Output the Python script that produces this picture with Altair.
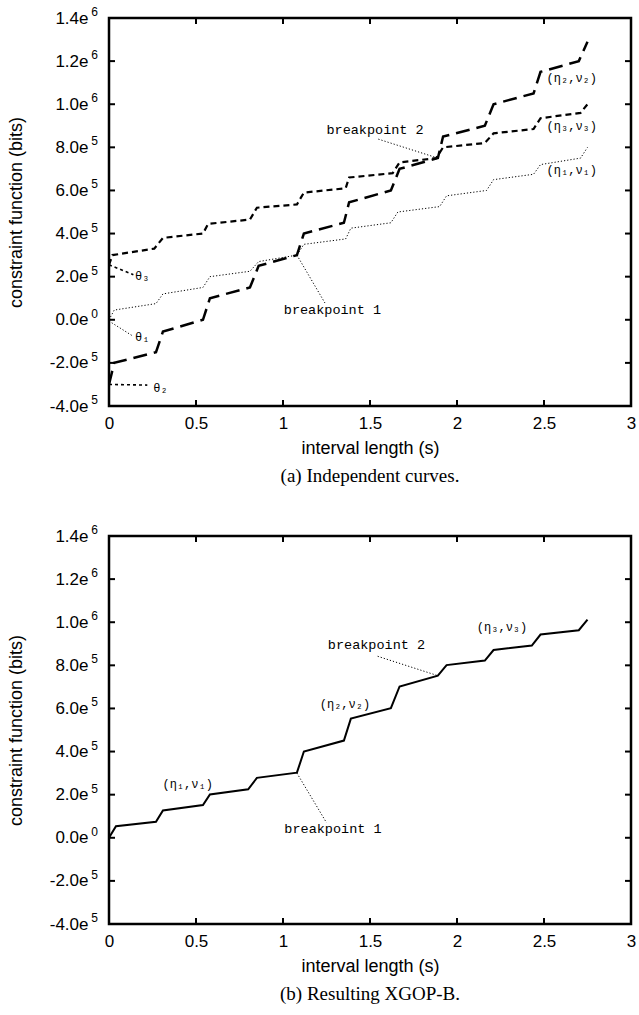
import altair as alt
import pandas as pd

# ---------------- data ----------------
eta1_x = [0, 0.03, 0.27, 0.31, 0.54, 0.58, 0.81, 0.86, 1.08, 1.12, 1.36, 1.39, 1.62, 1.66, 1.90, 1.94, 2.17, 2.21, 2.44, 2.48, 2.71, 2.75]
eta1_y = [0, 4.5e4, 7.5e4, 1.2e5, 1.5e5, 2.0e5, 2.25e5, 2.7e5, 3.0e5, 3.5e5, 3.75e5, 4.25e5, 4.5e5, 5.0e5, 5.25e5, 5.75e5, 6.0e5, 6.5e5, 6.75e5, 7.2e5, 7.5e5, 8.0e5]

eta2_x = [0, 0.03, 0.27, 0.31, 0.54, 0.58, 0.81, 0.86, 1.08, 1.12, 1.35, 1.38, 1.62, 1.67, 1.89, 1.92, 2.16, 2.21, 2.44, 2.48, 2.70, 2.75]
eta2_y = [-3.0e5, -2.0e5, -1.5e5, -5.5e4, 0, 1.0e5, 1.5e5, 2.5e5, 3.0e5, 4.0e5, 4.5e5, 5.45e5, 6.0e5, 7.0e5, 7.5e5, 8.5e5, 9.0e5, 1.0e6, 1.05e6, 1.15e6, 1.2e6, 1.29e6]

eta3_x = [0, 0.02, 0.26, 0.31, 0.54, 0.57, 0.81, 0.85, 1.08, 1.12, 1.36, 1.38, 1.63, 1.67, 1.88, 1.92, 2.16, 2.21, 2.44, 2.48, 2.71, 2.75]
eta3_y = [2.55e5, 3.0e5, 3.3e5, 3.8e5, 4.0e5, 4.45e5, 4.65e5, 5.2e5, 5.35e5, 5.9e5, 6.1e5, 6.6e5, 6.8e5, 7.3e5, 7.5e5, 8.0e5, 8.2e5, 8.65e5, 8.85e5, 9.35e5, 9.6e5, 1.0e6]

xgop_x = [0, 0.04, 0.27, 0.31, 0.54, 0.58, 0.80, 0.85, 1.08, 1.12, 1.35, 1.39, 1.62, 1.67, 1.89, 1.94, 2.16, 2.21, 2.43, 2.48, 2.70, 2.75]
xgop_y = [0, 5.4e4, 7.4e4, 1.27e5, 1.52e5, 2.01e5, 2.25e5, 2.78e5, 3.02e5, 4.0e5, 4.51e5, 5.53e5, 6.01e5, 7.02e5, 7.52e5, 8.01e5, 8.22e5, 8.71e5, 8.92e5, 9.43e5, 9.63e5, 1.0125e6]

x_ticks = [0, 0.5, 1, 1.5, 2, 2.5, 3]
y_ticks = [-4e5, -2e5, 0, 2e5, 4e5, 6e5, 8e5, 1.0e6, 1.2e6, 1.4e6]
y_mant = ["-4.0e", "-2.0e", "0.0e", "2.0e", "4.0e", "6.0e", "8.0e", "1.0e", "1.2e", "1.4e"]
y_exp = ["5", "5", "0", "5", "5", "5", "5", "6", "6", "6"]

# annotations (panel a)
a_lab_text = ["(η₂,ν₂)", "(η₃,ν₃)", "(η₁,ν₁)", "breakpoint 2", "breakpoint 1", "θ₃", "θ₁", "θ₂"]
a_lab_x = [2.515, 2.515, 2.515, 1.529, 1.284, 0.15, 0.15, 0.255]
a_lab_y = [1.122e6, 8.97e5, 6.96e5, 8.82e5, 4.4e4, 2.02e5, -8.0e4, -3.16e5]
a_lab_align = ["left", "left", "left", "center", "center", "left", "left", "left"]

a_ptr_x1 = [1.548, 1.08, 0.0, 0.0, 0.0]
a_ptr_y1 = [8.38e5, 3.0e5, 2.55e5, -6e3, -3.0e5]
a_ptr_x2 = [1.89, 1.241, 0.14, 0.14, 0.22]
a_ptr_y2 = [7.5e5, 7.8e4, 2.09e5, -7.7e4, -3.03e5]
a_ptr_kind = ["dot", "dot", "dash", "dot", "dash"]

# annotations (panel b)
b_lab_text = ["(η₁,ν₁)", "(η₂,ν₂)", "(η₃,ν₃)", "breakpoint 2", "breakpoint 1"]
b_lab_x = [0.452, 1.356, 2.259, 1.537, 1.287]
b_lab_y = [2.48e5, 6.19e5, 9.77e5, 8.96e5, 4.3e4]
b_lab_align = ["center", "center", "center", "center", "center"]

b_ptr_x1 = [1.544, 1.08]
b_ptr_y1 = [8.42e5, 3.0e5]
b_ptr_x2 = [1.89, 1.25]
b_ptr_y2 = [7.52e5, 7.0e4]
b_ptr_kind = ["dot", "dot"]

W, H = 522, 388

xs = alt.Scale(domain=[0, 3], nice=False, zero=False)
ys = alt.Scale(domain=[-4e5, 1.4e6], nice=False, zero=False)

mant_map = "{" + ",".join(f"'{int(round(v / 1e5))}':'{m}'" for v, m in zip(y_ticks, y_mant)) + "}"
y_label_expr = f"{mant_map}[toString(round(datum.value / 100000))]"

AX_STYLE = dict(domain=False, ticks=False, grid=False,
                labelFont="Liberation Sans", labelFontSize=17, labelColor="black",
                titleFont="Liberation Sans", titleFontSize=18, titleFontWeight="normal",
                titleColor="black", labelFlush=False, labelOverlap=False)

X_AX = alt.Axis(values=x_ticks, format="~g", title="interval length (s)",
                labelPadding=9, titlePadding=8, **AX_STYLE)
Y_AX = alt.Axis(values=y_ticks, labelExpr=y_label_expr, title="constraint function (bits)",
                labelPadding=21, titlePadding=24, **AX_STYLE)


def series_layer(xv, yv, dash, width):
    df = pd.DataFrame({"x": xv, "y": yv, "i": list(range(len(xv)))})
    kw = dict(color="black", strokeWidth=width, clip=True)
    if dash:
        kw["strokeDash"] = dash
    return alt.Chart(df).mark_line(**kw).encode(
        x=alt.X("x:Q", scale=xs, axis=X_AX),
        y=alt.Y("y:Q", scale=ys, axis=Y_AX),
        order="i:Q",
    )


def exponent_layer():
    df = pd.DataFrame({"t": y_ticks, "e": y_exp})
    return alt.Chart(df).mark_text(
        align="right", baseline="middle", font="Liberation Sans", fontSize=12,
        color="black", dy=-6).encode(
        y=alt.Y("t:Q", scale=ys), x=alt.value(-11), text="e:N")


def tick_layers():
    xt = pd.DataFrame({"t": [v for v in x_ticks if 0 < v < 3]})
    yt = pd.DataFrame({"t": [v for v in y_ticks if -4e5 < v < 1.4e6]})
    sw = 2
    bottom = alt.Chart(xt).mark_rule(color="black", strokeWidth=sw).encode(
        x=alt.X("t:Q", scale=xs), y=alt.value(H), y2=alt.value(H - 6))
    top = alt.Chart(xt).mark_rule(color="black", strokeWidth=sw).encode(
        x=alt.X("t:Q", scale=xs), y=alt.value(0), y2=alt.value(6))
    left = alt.Chart(yt).mark_rule(color="black", strokeWidth=sw).encode(
        y=alt.Y("t:Q", scale=ys), x=alt.value(0), x2=alt.value(6))
    right = alt.Chart(yt).mark_rule(color="black", strokeWidth=sw).encode(
        y=alt.Y("t:Q", scale=ys), x=alt.value(W - 6), x2=alt.value(W))
    return [bottom, top, left, right]


def pointer_layers(x1, y1, x2, y2, kind):
    df = pd.DataFrame({"x1": x1, "y1": y1, "x2": x2, "y2": y2, "k": kind})
    dot = alt.Chart(df).transform_filter("datum.k == 'dot'").mark_rule(
        color="black", strokeWidth=1, strokeDash=[1.2, 2]).encode(
        x=alt.X("x1:Q", scale=xs), y=alt.Y("y1:Q", scale=ys), x2="x2:Q", y2="y2:Q")
    dash = alt.Chart(df).transform_filter("datum.k == 'dash'").mark_rule(
        color="black", strokeWidth=1.6, strokeDash=[3, 3]).encode(
        x=alt.X("x1:Q", scale=xs), y=alt.Y("y1:Q", scale=ys), x2="x2:Q", y2="y2:Q")
    return [dot, dash]


def label_layers(text, xv, yv, align, size_big=13.5, size_small=12):
    df = pd.DataFrame({"t": text, "x": xv, "y": yv, "a": align})
    df["s"] = [size_big if s.startswith("break") else size_small for s in text]
    layers = []
    for al in ["left", "center"]:
        layers.append(alt.Chart(df).transform_filter(f"datum.a == '{al}'").mark_text(
            align=al, baseline="middle", font="Liberation Mono, DejaVu Sans Mono",
            color="black").encode(
            x=alt.X("x:Q", scale=xs), y=alt.Y("y:Q", scale=ys), text="t:N",
            size=alt.Size("s:Q", scale=None, legend=None)))
    return layers


def caption(text):
    return alt.TitleParams(text=text, orient="bottom", font="Liberation Serif",
                           fontSize=19, fontWeight="normal", color="black", offset=10)


panel_a = alt.layer(
    series_layer(eta1_x, eta1_y, [1.2, 2], 1),
    series_layer(eta2_x, eta2_y, [14, 7], 2.5),
    series_layer(eta3_x, eta3_y, [6, 4], 2.2),
    *pointer_layers(a_ptr_x1, a_ptr_y1, a_ptr_x2, a_ptr_y2, a_ptr_kind),
    *label_layers(a_lab_text, a_lab_x, a_lab_y, a_lab_align),
    *tick_layers(),
    exponent_layer(),
).properties(width=W, height=H, title=caption("(a) Independent curves."))

panel_b = alt.layer(
    series_layer(xgop_x, xgop_y, None, 2),
    *pointer_layers(b_ptr_x1, b_ptr_y1, b_ptr_x2, b_ptr_y2, b_ptr_kind),
    *label_layers(b_lab_text, b_lab_x, b_lab_y, b_lab_align),
    *tick_layers(),
    exponent_layer(),
).properties(width=W, height=H, title=caption("(b) Resulting XGOP-B."))

chart = alt.vconcat(panel_a, panel_b, spacing=34).properties(
    padding={"left": 6, "top": 4, "right": 0, "bottom": 0},
    background="white",
).configure_view(
    stroke="black", strokeWidth=2.5
)

chart.save("out.html", embed_options={"renderer": "svg", "actions": False})
